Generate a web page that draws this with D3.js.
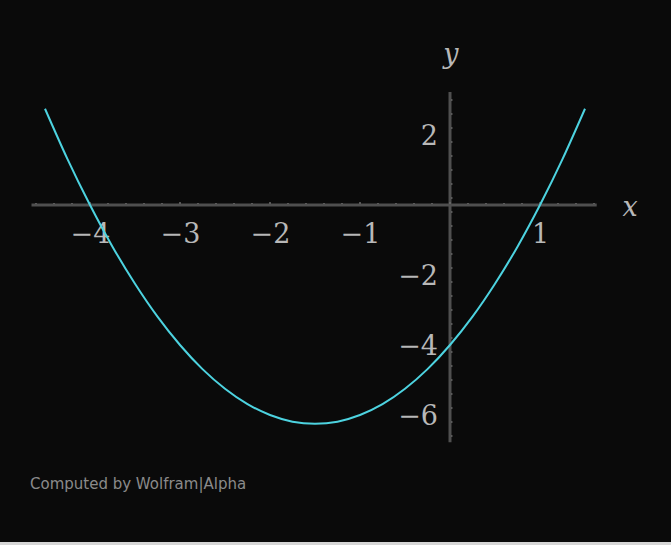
<!DOCTYPE html>
<html><head><meta charset="utf-8">
<script src="https://cdn.jsdelivr.net/npm/d3@7"></script>
<style>
html,body{margin:0;padding:0;background:#0a0a0a;}
svg{display:block;}
</style></head>
<body>
<script>
// Points
const xValues = [-4.5,-4.25,-4,-3.75,-3.5,-3.25,-3,-2.75,-2.5,-2.25,-2,-1.75,-1.5,-1.25,-1,-0.75,-0.5,-0.25,0,0.25,0.5,0.75,1,1.25,1.5];
const yValues = [2.75,1.31,0,-1.19,-2.25,-3.19,-4,-4.69,-5.25,-5.69,-6,-6.19,-6.25,-6.19,-6,-5.69,-5.25,-4.69,-4,-3.19,-2.25,-1.19,0,1.31,2.75];
const xTicks = [-4,-3,-2,-1,1];
const yTicks = [2,-2,-4,-6];
const xLabel = "x", yLabel = "y";
const credit = "Computed by Wolfram|Alpha";

const W = 671, H = 545;
const svg = d3.select("body").append("svg").attr("width", W).attr("height", H);
svg.append("rect").attr("width", W).attr("height", H).attr("fill", "#0a0a0a");
svg.append("rect").attr("x", 0).attr("y", 542).attr("width", W).attr("height", 3).attr("fill", "#d6d6d6");

const x = d3.scaleLinear().domain([-4.5, 1.5]).range([45, 585]);
const y = d3.scaleLinear().domain([-6, 2]).range([415, 135]);

const axisColor = "#4f4f4f";
const labelColor = "#b8b8b8";
const serif = "'DejaVu Serif', serif";

// x axis line
svg.append("line").attr("x1", x(-4.65)).attr("x2", x(1.63)).attr("y1", y(0)).attr("y2", y(0))
  .attr("stroke", axisColor).attr("stroke-width", 3);
// y axis line
svg.append("line").attr("x1", x(0)).attr("x2", x(0)).attr("y1", y(3.23)).attr("y2", y(-6.78))
  .attr("stroke", axisColor).attr("stroke-width", 3);

// minor ticks on x axis
const xMinor = d3.range(-46, 17, 2).map(d => d / 10);
svg.append("g").selectAll("line").data(xMinor).join("line")
  .attr("x1", d => x(d)).attr("x2", d => x(d))
  .attr("y1", d => y(0) - (Number.isInteger(d) ? 3 : 2)).attr("y2", y(0) - 1)
  .attr("stroke", "#6a6a6a").attr("stroke-width", 1.5);
// minor ticks on y axis
const yMinor = d3.range(-66, 32, 4).map(d => d / 10);
svg.append("g").selectAll("line").data(yMinor).join("line")
  .attr("x1", x(0) + 1).attr("x2", x(0) + 2.5)
  .attr("y1", d => y(d)).attr("y2", d => y(d))
  .attr("stroke", "#6a6a6a").attr("stroke-width", 1.5);

// x tick labels
const xAxisG = svg.append("g").attr("transform", `translate(0,${y(0)})`)
  .call(d3.axisBottom(x).tickValues(xTicks).tickSize(0).tickPadding(30)
    .tickFormat(d => d < 0 ? "\u2212" + Math.abs(d) : String(d)));
xAxisG.select(".domain").remove();
xAxisG.selectAll("text").attr("fill", labelColor).attr("font-family", serif)
  .attr("font-size", 27).attr("dy", 0).attr("y", 38);

// y tick labels
const yAxisG = svg.append("g").attr("transform", `translate(${x(0)},0)`)
  .call(d3.axisLeft(y).tickValues(yTicks).tickSize(0).tickPadding(12)
    .tickFormat(d => d < 0 ? "\u2212" + Math.abs(d) : String(d)));
yAxisG.select(".domain").remove();
yAxisG.selectAll("text").attr("fill", labelColor).attr("font-family", serif)
  .attr("font-size", 27).attr("dy", "0.36em");

// axis labels
svg.append("text").attr("x", 630).attr("y", 216).attr("text-anchor", "middle")
  .attr("font-family", serif).attr("font-style", "italic").attr("font-size", 27)
  .attr("fill", labelColor).text(xLabel);
svg.append("text").attr("x", 451).attr("y", 63).attr("text-anchor", "middle")
  .attr("font-family", serif).attr("font-style", "italic").attr("font-size", 27)
  .attr("fill", labelColor).text(yLabel);

// curve
const pts = xValues.map((v, i) => [v, yValues[i]]);
svg.append("path").datum(pts)
  .attr("d", d3.line().x(d => x(d[0])).y(d => y(d[1])).curve(d3.curveNatural))
  .attr("fill", "none").attr("stroke", "#4dd3e0").attr("stroke-width", 2);

// credit
svg.append("text").attr("x", 30).attr("y", 489)
  .attr("font-family", "'DejaVu Sans', sans-serif").attr("font-size", 15)
  .attr("fill", "#8a8a8a").text(credit);
</script>
</body></html>
